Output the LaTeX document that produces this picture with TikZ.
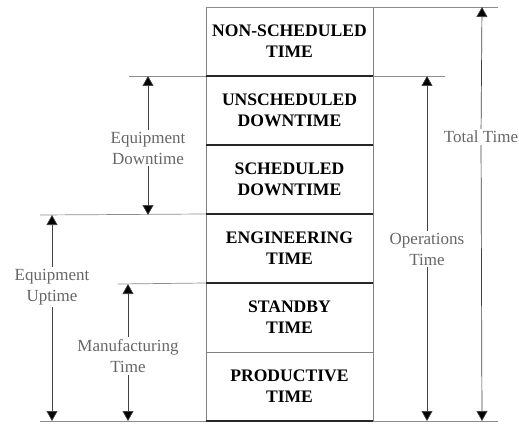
\documentclass[tikz,border=0pt]{standalone}
\usepackage{fontspec}
\setmainfont{Liberation Serif}
\usetikzlibrary{positioning,arrows.meta}

\begin{document}
\begin{tikzpicture}[x=1pt,y=-1pt,
  time block/.style={draw=black!50, line width=0.7pt, outer sep=0pt, inner sep=0pt,
    minimum width=167pt, minimum height=69pt, align=center,
    font=\fontsize{17.6}{21}\selectfont\bfseries},
  block rule/.style={black!85, line width=1.6pt},
  guide/.style={black!45, line width=0.7pt},
  span/.style={black!75, line width=0.7pt,
    -{Triangle[width=11pt,length=10pt,fill=black]}},
  span label/.style={text=black!60, align=center, inner sep=2pt,
    font=\fontsize{17}{21}\selectfont}]

  \useasboundingbox (0,0) rectangle (519,425);

  % The stack of time blocks

  \node [time block] (nonsched) at (289.5,41.5) {NON-SCHEDULED\\TIME};
  \node [time block, below=0pt of nonsched] (unsched) {UNSCHEDULED\\DOWNTIME};
  \node [time block, below=0pt of unsched] (sched) {SCHEDULED\\DOWNTIME};
  \node [time block, below=0pt of sched] (eng) {ENGINEERING\\TIME};
  \node [time block, below=0pt of eng] (stby) {STANDBY\\TIME};
  \node [time block, below=0pt of stby] (prod) {PRODUCTIVE\\TIME};

  % Free ends of the guide lines

  \coordinate (top end) at (498,7);
  \coordinate (down left) at (129,76);
  \coordinate (down right) at (445,76);
  \coordinate (up left) at (40,215);
  \coordinate (mfg left) at (118,284);
  \coordinate (bot left) at (40,421);
  \coordinate (bot right) at (498,421);

  \draw [guide] (nonsched.north west) -- (top end);
  \draw [guide] (down left) -- (unsched.north west);
  \draw [guide] (unsched.north east) -- (down right);
  \draw [guide] (up left) -- (eng.north west);
  \draw [guide] (mfg left) -- (stby.north west);
  \draw [guide] (bot left) -- (bot right);

  % Heavier rules between the blocks

  \foreach \blk in {unsched,sched,eng,stby}
    \draw [block rule] (\blk.north west) -- (\blk.north east);
  \draw [block rule] (prod.south west) -- (prod.south east);

  % Spans and their labels

  \node [span label] (eqdown) at (148,148) {Equipment\\Downtime};
  \coordinate (eqdown top) at (148,76);
  \coordinate (eqdown bot) at (148,215);
  \draw [span] (eqdown) -- (eqdown top);
  \draw [span] (eqdown) -- (eqdown bot);

  \node [span label] (total) at (481,137) {Total Time};
  \coordinate (total top) at (482,7);
  \coordinate (total bot) at (482,421);
  \draw [span] (total) -- (total top);
  \draw [span] (total) -- (total bot);

  \node [span label] (ops) at (427,249) {Operations\\Time};
  \coordinate (ops top) at (427,76);
  \coordinate (ops bot) at (427,421);
  \draw [span] (ops) -- (ops top);
  \draw [span] (ops) -- (ops bot);

  \node [span label] (equp) at (52,287) {Equipment\\Uptime};
  \coordinate (equp top) at (52,215);
  \coordinate (equp bot) at (52,421);
  \draw [span] (equp) -- (equp top);
  \draw [span] (equp) -- (equp bot);

  \node [span label] (mfg) at (128,356) {Manufacturing\\Time};
  \coordinate (mfg top) at (128,284);
  \coordinate (mfg bot) at (128,421);
  \draw [span] (mfg) -- (mfg top);
  \draw [span] (mfg) -- (mfg bot);
\end{tikzpicture}
\end{document}
